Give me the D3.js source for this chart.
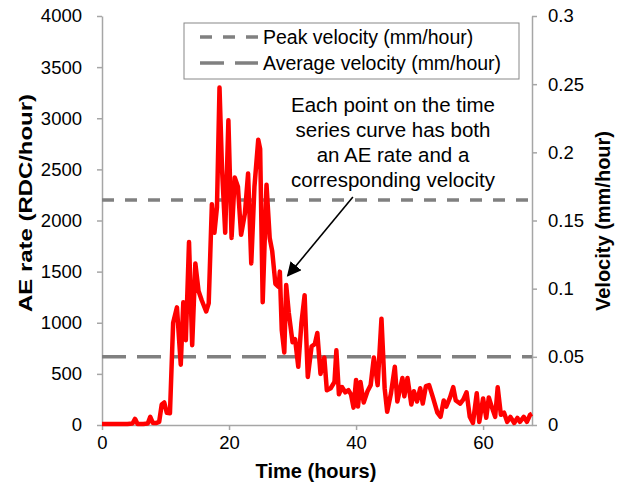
<!DOCTYPE html>
<html>
<head>
<meta charset="utf-8">
<script src="https://cdn.jsdelivr.net/npm/d3@7"></script>
<style>
  body { margin: 0; background: #fff; }
  svg { display: block; font-family: Arial, "Liberation Sans", sans-serif; }
</style>
</head>
<body>
<div id="chart"></div>
<script>
// time series (hours, AE rate in RDC/hour)
var hours = [0, 1, 2, 3, 4, 4.8, 5.2, 5.6, 6.5, 7.2, 7.6, 8.0, 8.6, 9.0, 9.4, 9.8, 10.2, 10.7,
  11.2, 11.8, 12.4, 12.8, 13.2, 13.7, 14.2, 14.7, 15.2, 15.7, 16.4, 16.8, 17.3, 17.7, 18.1,
  18.5, 18.9, 19.4, 19.9, 20.4, 20.9, 21.4, 21.9, 22.5, 23.0, 23.5, 24.0, 24.6, 24.9, 25.3,
  25.9, 26.4, 26.8, 27.3, 27.8, 28.0, 28.3, 28.7, 29.0, 29.4, 30.0, 30.4, 30.9, 31.4, 31.9,
  32.4, 33.0, 33.5, 33.9, 34.4, 35.0, 35.4, 36.0, 36.6, 36.9, 37.3, 37.8, 38.3, 38.8, 39.2,
  39.6, 40.0, 40.3, 40.7, 41.2, 41.8, 42.3, 42.8, 43.4, 44.0, 44.5, 44.9, 45.5, 46.1, 46.5,
  47.3, 47.6, 48.1, 48.7, 49.1, 49.6, 50.1, 50.5, 51.0, 51.5, 52.1, 52.8, 53.3, 53.8, 54.2,
  54.8, 55.3, 55.7, 56.4, 56.9, 57.4, 57.9, 58.4, 59.0, 59.4, 60.0, 60.5, 60.9, 61.4, 61.9,
  62.3, 62.8, 63.3, 63.8, 64.3, 64.9, 65.4, 65.8, 66.4, 66.9, 67.4, 67.7];
var aeRate = [10, 10, 10, 10, 10, 15, 60, 10, 10, 15, 80, 20, 20, 30, 200, 220, 120, 115,
  1000, 1150, 590, 1200, 830, 1790, 780, 1580, 1310, 1220, 1110, 1190, 2160, 1880, 2130,
  3300, 2500, 1880, 2980, 1830, 2420, 2330, 1860, 2070, 2460, 1580, 2330, 2790, 2700, 1200,
  2350, 1830, 1700, 1380, 1350, 1500, 930, 710, 1370, 1100, 810, 840, 570, 1000, 1270,
  470, 770, 790, 900, 500, 660, 340, 360, 420, 730, 300, 370, 320, 340, 300,
  170, 440, 180, 420, 220, 330, 390, 660, 390, 1040, 360, 130, 310, 570, 230,
  460, 280, 460, 200, 330, 230, 360, 210, 380, 390, 270, 120, 80, 240, 180,
  270, 370, 240, 210, 250, 320, 80, 20, 310, 30, 260, 70, 270, 170, 80,
  370, 100, 120, 30, 80, 20, 70, 30, 80, 30, 100, 110];

// reference velocities (mm/hour)
var peakVelocity = 0.165;
var averageVelocity = 0.05;

var xTicks = [0, 20, 40, 60];
var aeTicks = [0, 500, 1000, 1500, 2000, 2500, 3000, 3500, 4000];
var velTicks = [0, 0.05, 0.1, 0.15, 0.2, 0.25, 0.3];

var legendLabels = ["Peak velocity (mm/hour)", "Average velocity (mm/hour)"];
var noteLines = ["Each point on the time", "series curve has both", "an AE rate and a", "corresponding velocity"];

var width = 623, height = 491;
var svg = d3.select("#chart").append("svg")
  .attr("width", width).attr("height", height);

var x = d3.scaleLinear().domain([0, 67.7]).range([102, 532]);
var y = d3.scaleLinear().domain([0, 4000]).range([425, 16]);
var yv = d3.scaleLinear().domain([0, 0.3]).range([425, 16]);

var axisColor = "#a6a6a6";

function styleAxis(g) {
  g.select(".domain").attr("stroke", axisColor).attr("stroke-width", 1.5);
  g.selectAll(".tick line").attr("stroke", axisColor).attr("stroke-width", 1.5);
  g.selectAll(".tick text").attr("fill", "#000").style("font-size", "18.5px")
    .style("font-family", "Arial, 'Liberation Sans', sans-serif");
}

svg.append("g").attr("transform", "translate(0,425)")
  .call(d3.axisBottom(x).tickValues(xTicks).tickSize(5).tickPadding(6).tickSizeOuter(0))
  .call(styleAxis);

svg.append("g").attr("transform", "translate(102,0)")
  .call(d3.axisLeft(y).tickValues(aeTicks).tickSize(5).tickPadding(15).tickSizeOuter(0)
    .tickFormat(d3.format("d")))
  .call(styleAxis);

svg.append("g").attr("transform", "translate(532,0)")
  .call(d3.axisRight(yv).tickValues(velTicks).tickSize(5).tickPadding(11).tickSizeOuter(0)
    .tickFormat(function(d) { return String(+d.toFixed(2)); }))
  .call(styleAxis);

// reference lines on velocity axis
var refLines = [
  { v: peakVelocity, dash: "12,11" },
  { v: averageVelocity, dash: "24,11" }
];
svg.selectAll(".ref").data(refLines).enter().append("line")
  .attr("class", "ref")
  .attr("x1", x(0)).attr("x2", x(67.7))
  .attr("y1", function(d) { return yv(d.v); })
  .attr("y2", function(d) { return yv(d.v); })
  .attr("stroke", "#808080").attr("stroke-width", 3.5)
  .attr("stroke-dasharray", function(d) { return d.dash; });

// AE rate time series
var line = d3.line()
  .x(function(d, i) { return x(hours[i]); })
  .y(function(d) { return y(d); });

svg.append("path").datum(aeRate)
  .attr("d", line)
  .attr("fill", "none")
  .attr("stroke", "#ff0000")
  .attr("stroke-width", 4.5)
  .attr("stroke-linejoin", "round");

// legend
var lg = svg.append("g");
lg.append("rect").attr("x", 184).attr("y", 23).attr("width", 335).attr("height", 56)
  .attr("fill", "#fff").attr("stroke", "#888").attr("stroke-width", 1);
legendLabels.forEach(function(label, i) {
  var ly = 37 + i * 26;
  lg.append("line").attr("x1", 200).attr("x2", 258).attr("y1", ly).attr("y2", ly)
    .attr("stroke", "#808080").attr("stroke-width", 3.5)
    .attr("stroke-dasharray", refLines[i].dash);
  lg.append("text").attr("x", 263).attr("y", ly).attr("dy", "0.35em")
    .style("font-size", "19.5px").text(label);
});

// annotation
var note = svg.append("text").attr("text-anchor", "middle").style("font-size", "20.5px");
noteLines.forEach(function(t, i) {
  note.append("tspan").attr("x", 393).attr("y", 105 + i * 25).attr("dy", "0.35em").text(t);
});

svg.append("defs").append("marker")
  .attr("id", "arrow").attr("viewBox", "0 0 10 10").attr("refX", 9).attr("refY", 5)
  .attr("markerWidth", 9).attr("markerHeight", 9).attr("orient", "auto-start-reverse")
  .append("path").attr("d", "M0,0 L10,5 L0,10 z").attr("fill", "#000");

svg.append("line")
  .attr("x1", x(39.5)).attr("y1", y(2230))
  .attr("x2", x(29.25)).attr("y2", y(1460))
  .attr("stroke", "#000").attr("stroke-width", 1.6)
  .attr("marker-end", "url(#arrow)");

// axis titles
svg.append("text").attr("x", 316).attr("y", 478).attr("text-anchor", "middle")
  .style("font-size", "20px").style("font-weight", "bold").text("Time (hours)");

svg.append("text").attr("transform", "translate(26,203) rotate(-90)")
  .attr("text-anchor", "middle").attr("dy", "0.35em")
  .attr("textLength", 218).attr("lengthAdjust", "spacingAndGlyphs")
  .style("font-size", "18px").style("font-weight", "bold").text("AE rate (RDC/hour)");

svg.append("text").attr("transform", "translate(603,221) rotate(-90)")
  .attr("text-anchor", "middle").attr("dy", "0.35em")
  .style("font-size", "20px").style("font-weight", "bold").text("Velocity (mm/hour)");
</script>
</body>
</html>
